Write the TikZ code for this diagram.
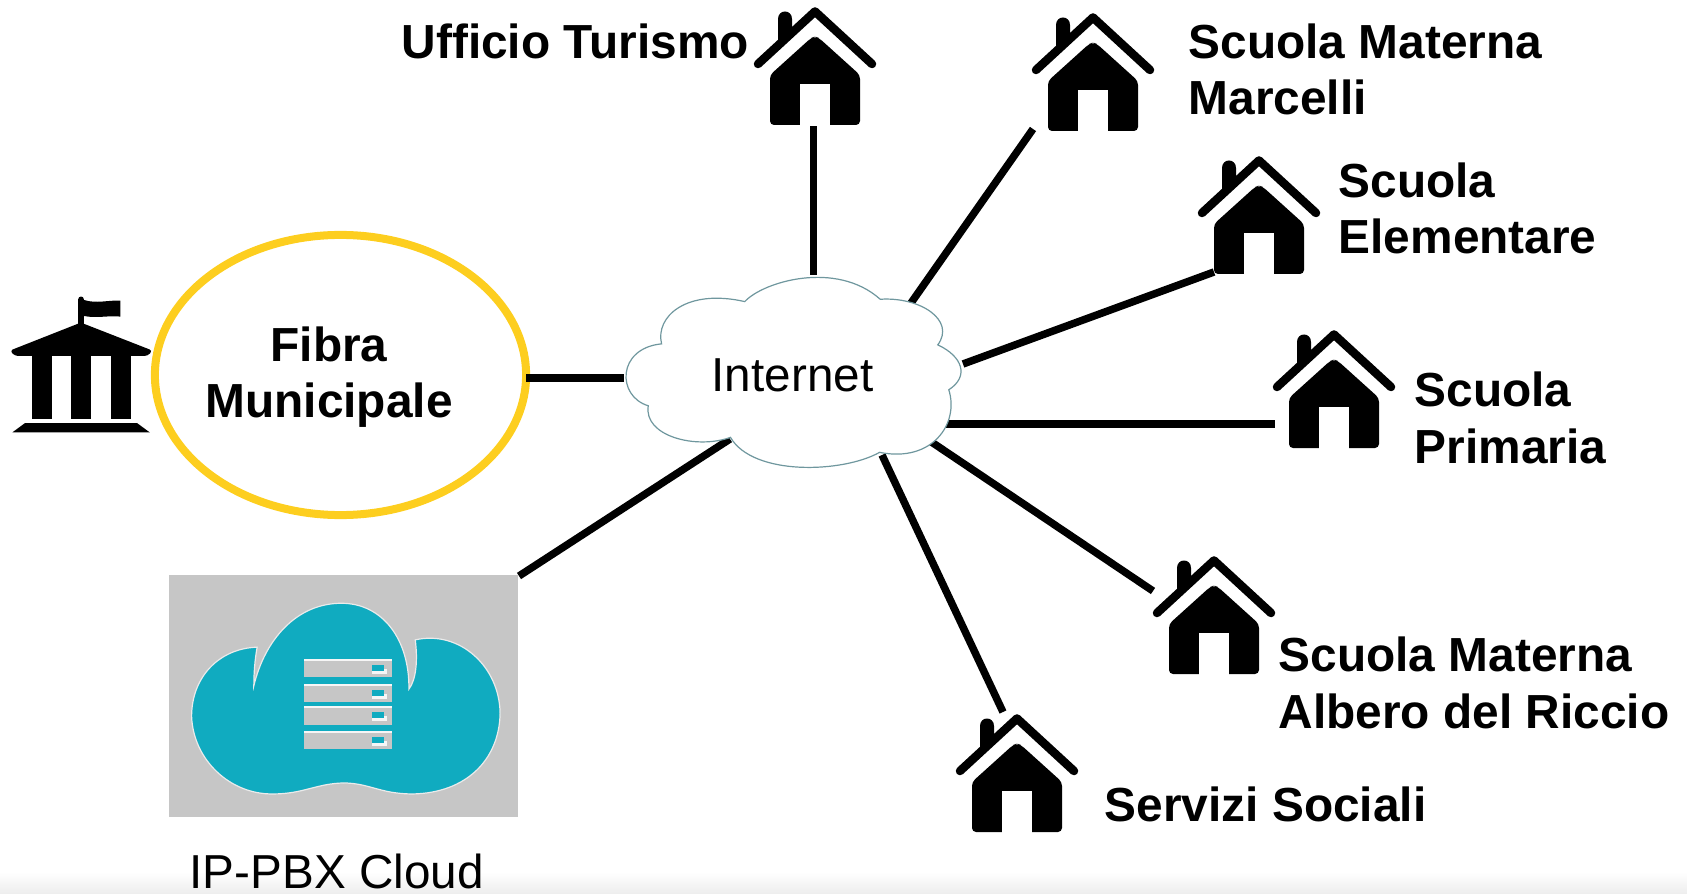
\documentclass[tikz,border=0pt]{standalone}
\usepackage{fontspec}
\setmainfont{Liberation Sans}
\usetikzlibrary{shapes.geometric}
\definecolor{ringyellow}{HTML}{FDCE1F}
\definecolor{cloudline}{HTML}{6F979E}
\definecolor{pbxgrey}{HTML}{C6C6C6}
\definecolor{pbxteal}{HTML}{10ABC0}
\tikzset{
  link/.style={line width=0.075cm},
  lab/.style={inner sep=0pt,anchor=base west,align=left,font=\fontsize{13.6pt}{16.2pt}\selectfont\bfseries},
  plainlab/.style={inner sep=0pt,anchor=base west,font=\fontsize{13.55pt}{16.2pt}\selectfont},
  homeicon/.pic={
    \fill[rounded corners=0.04cm] (-45,67) -- (-4,30) -- (0,28.5) -- (4,30) -- (45,67) -- (45,117) -- (-45,117) -- cycle;
    \fill[white] (-15,76) rectangle (15,118);
    \fill (-37,37) -- (-37,11) .. controls (-37,1) and (-23,1) .. (-23,11) -- (-23,24) -- cycle;
    \draw[line width=0.085cm,line cap=round,line join=round] (-57,56) -- (0,3.5) -- (57,56);
  }
}
\begin{document}
\begin{tikzpicture}[x=0.01cm,y=-0.01cm]
  \useasboundingbox (0,0) rectangle (1687,894);
  \shade [top color=white,bottom color=black!7] (0,872) rectangle (1687,894);

  % Marking line ends
  \coordinate (netTur) at (813.5,275);
  \coordinate (endTur) at (813.5,124);
  \coordinate (netMar) at (911,303);
  \coordinate (endMar) at (1033,129);
  \coordinate (netEle) at (963,364);
  \coordinate (endEle) at (1214,272);
  \coordinate (netPri) at (943,424);
  \coordinate (endPri) at (1275,424);
  \coordinate (netAlb) at (927,439);
  \coordinate (endAlb) at (1153,591);
  \coordinate (netSer) at (882,455);
  \coordinate (endSer) at (1003,712);
  \coordinate (netPbx) at (730,439);
  \coordinate (endPbx) at (519,576);
  \coordinate (netFib) at (624,378);
  \coordinate (endFib) at (526,378);

  % Drawing ring
  \node [draw=ringyellow,line width=0.08cm,ellipse,minimum width=3.71cm,minimum height=2.8cm,inner sep=0pt] (fibra) at (340.5,375) {};
  \node [lab,align=center,anchor=base] (fibraText) at (329,418) {Fibra\\Municipale};

  % Drawing lines
  \draw [link] (netTur) -- (endTur);
  \draw [link] (netMar) -- (endMar);
  \draw [link] (netEle) -- (endEle);
  \draw [link] (netPri) -- (endPri);
  \draw [link] (netAlb) -- (endAlb);
  \draw [link] (netSer) -- (endSer);
  \draw [link] (netPbx) -- (endPbx);
  \draw [link] (netFib) -- (endFib);

  % Drawing internet cloud
  \begin{scope}[shift={(610,260)},x=0.00333cm,y=-0.00333cm]
    \draw [cloudline,fill=white,line width=0.012cm]
      (155,252) .. controls (135,170) and (230,85) .. (405,125)
      .. controls (460,65) and (680,0) .. (812,118)
      .. controls (930,110) and (1040,180) .. (985,255)
      .. controls (1060,290) and (1080,350) .. (1018,390)
      .. controls (1050,490) and (970,610) .. (810,578)
      .. controls (700,640) and (430,650) .. (362,533)
      .. controls (260,570) and (100,530) .. (115,438)
      .. controls (20,410) and (20,265) .. (155,252) -- cycle;
  \end{scope}
  \node [plainlab] (internet) at (711,391) {Internet};

  % Drawing town hall
  \begin{scope}[shift={(0,280)},x=0.00333cm,y=-0.00333cm]
    \fill (235,135) -- (235,58) .. controls (235,47) and (252,47) .. (252,58) -- (252,135) -- cycle;
    \fill (252,60) .. controls (290,72) and (325,60) .. (362,62) -- (362,110) .. controls (325,106) and (290,116) .. (252,108) -- cycle;
    \fill [rounded corners=0.03cm] (243,128) -- (458,212) -- (444,228) -- (44,228) -- (30,212) -- cycle;
    \fill (95,225) rectangle (155,418);
    \fill (213,225) rectangle (273,418);
    \fill (333,225) rectangle (393,418);
    \fill (75,430) -- (412,430) -- (450,458) -- (37,458) -- cycle;
  \end{scope}

  % Drawing pbx picture
  \begin{scope}[shift={(150,560)},x=0.00333cm,y=-0.00333cm]
    \fill [pbxgrey] (57,45) rectangle (1107,773);
    \draw [white!65!pbxgrey,fill=pbxteal,line width=0.012cm] (322,262) .. controls (210,265) and (125,350) .. (125,470)
      .. controls (130,600) and (240,705) .. (370,703)
      .. controls (460,703) and (500,672) .. (580,670)
      .. controls (660,670) and (690,703) .. (790,703)
      .. controls (950,700) and (1050,600) .. (1052,460)
      .. controls (1050,320) and (930,210) .. (797,240)
      .. controls (805,300) and (800,360) .. (778,388)
      .. controls (780,240) and (700,130) .. (575,130)
      .. controls (440,130) and (345,240) .. (312,378)
      .. controls (312,340) and (315,300) .. (322,262) -- cycle;
    \foreach \y/\h in {297/56,372/56,438/57,513/54} {
      \fill [pbxgrey] (462,\y) rectangle (728,\y+\h);
      \fill [white!85!pbxgrey] (462,\y) rectangle (728,\y+7);
      \fill [white!85!pbxgrey] (667,\y+30) rectangle (711,\y+45);
      \fill [pbxteal] (667,\y+19) rectangle (703,\y+37);
    }
  \end{scope}
  \node [plainlab] (pbxText) at (189,888) {IP-PBX Cloud};

  % Drawing houses
  \pic at (815,8) {homeicon};
  \pic at (1093,14) {homeicon};
  \pic at (1259,157) {homeicon};
  \pic at (1334,331) {homeicon};
  \pic at (1214,557) {homeicon};
  \pic at (1017,715) {homeicon};

  % Marking labels
  \node [lab] (turismo) at (401,59) {Ufficio Turismo};
  \node [lab] (marcelli) at (1188,115) {Scuola Materna\\Marcelli};
  \node [lab] (elementare) at (1338,254) {Scuola\\Elementare};
  \node [lab] (primaria) at (1414,463) {Scuola\\Primaria};
  \node [lab] (riccio) at (1278,728) {Scuola Materna\\Albero del Riccio};
  \node [lab] (sociali) at (1104,821) {Servizi Sociali};
\end{tikzpicture}
\end{document}
